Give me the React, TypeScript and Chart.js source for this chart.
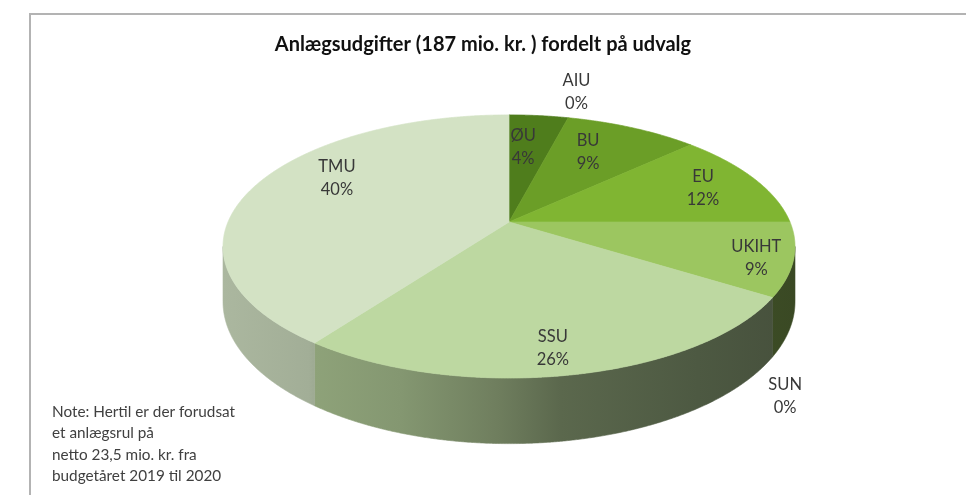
import React, { useEffect, useRef } from 'react';
import { Chart, registerables } from 'chart.js';

Chart.register(...registerables);

// ---- data ----
const TITLE = 'Anlægsudgifter (187 mio. kr. ) fordelt på udvalg';
const CATEGORIES = ['ØU', 'AIU', 'BU', 'EU', 'UKIHT', 'SUN', 'SSU', 'TMU'];
const SHARES = [4, 0, 9, 12, 9, 0, 26, 40];
const COLORS = ['#4f7d1c', '#5e8f22', '#6b9e27', '#80b532', '#9cc660', '#a9cc80', '#bdd8a1', '#d3e2c4'];
const NOTE_LINES = ['Note: Hertil er der forudsat', 'et anlægsrul på', 'netto 23,5 mio. kr. fra', 'budgetåret 2019 til 2020'];

// ---- label placement (radial fraction, angular nudge in degrees) ----
const LABEL_RADIUS = [0.66, 1.3, 0.685, 0.777, 0.879, 1.345, 0.851, 0.749];
const LABEL_NUDGE = [-2.3, -1.2, -3.4, 0.7, 1.9, 22, 1.9, 11.2];

// ---- 3D look ----
const TILT = 0.452; // vertical squash of the top face
const PERSP = 0.186; // perspective strength
const DEPTH = 0.19; // wall height as fraction of radius
const WALL_STOPS: [number, number][] = [
  [0, 0.81],
  [0.15, 0.77],
  [0.16, 0.75],
  [0.31, 0.7],
  [0.48, 0.585],
  [0.59, 0.48],
  [0.83, 0.41],
  [1, 0.37],
];

function shade(hex: string, f: number) {
  const n = parseInt(hex.slice(1), 16);
  const r = Math.round(((n >> 16) & 255) * f);
  const g = Math.round(((n >> 8) & 255) * f);
  const b = Math.round((n & 255) * f);
  return `rgb(${r},${g},${b})`;
}

const pie3d = {
  id: 'pie3d',
  beforeDraw(chart: any) {
    const ctx = chart.ctx as CanvasRenderingContext2D;
    ctx.save();
    ctx.fillStyle = '#ffffff';
    ctx.fillRect(0, 0, chart.width, chart.height);
    ctx.strokeStyle = '#b3b3b3';
    ctx.lineWidth = 2;
    ctx.beginPath();
    ctx.moveTo(chart.width, 14);
    ctx.lineTo(30, 14);
    ctx.lineTo(30, chart.height);
    ctx.stroke();
    ctx.restore();
  },
  beforeDatasetsDraw(chart: any) {
    const ctx = chart.ctx as CanvasRenderingContext2D;
    const meta = chart.getDatasetMeta(0);
    const arcs = meta.data;
    if (!arcs.length) return false;
    const first = arcs[0];
    const cx = first.x;
    const cy = first.y;
    const A = first.outerRadius;
    const B = A * TILT;
    const H = A * DEPTH;
    const proj = (r: number, a: number) => {
      const u = r * Math.cos(a);
      const v = r * Math.sin(a);
      const w = 1 - PERSP * v;
      return { x: cx + (A * u) / w, y: cy + (B * v) / w, w };
    };
    const step = Math.PI / 720;

    ctx.save();
    // walls
    const a1 = Math.asin(PERSP);
    const a2 = Math.PI - a1;
    const half = A / Math.sqrt(1 - PERSP * PERSP);
    arcs.forEach((arc: any, i: number) => {
      const lo = Math.max(arc.startAngle, a1);
      const hi = Math.min(arc.endAngle, a2);
      if (hi <= lo) return;
      const grad = ctx.createLinearGradient(cx - half, 0, cx + half, 0);
      WALL_STOPS.forEach(([t, f]) => grad.addColorStop(t, shade(COLORS[i], f)));
      ctx.beginPath();
      const top: { x: number; y: number; w: number }[] = [];
      for (let a = lo; a < hi; a += step) top.push(proj(1, a));
      top.push(proj(1, hi));
      top.forEach((p, k) => (k ? ctx.lineTo(p.x, p.y) : ctx.moveTo(p.x, p.y)));
      for (let k = top.length - 1; k >= 0; k--) {
        const p = top[k];
        ctx.lineTo(p.x, p.y + H / p.w);
      }
      ctx.closePath();
      ctx.fillStyle = grad;
      ctx.fill();
      ctx.strokeStyle = grad;
      ctx.lineWidth = 0.6;
      ctx.stroke();
    });

    // top faces
    arcs.forEach((arc: any, i: number) => {
      const s = arc.startAngle;
      const e = arc.endAngle;
      if (e - s <= 0) return;
      ctx.beginPath();
      ctx.moveTo(cx, cy);
      for (let a = s; a < e; a += step) {
        const p = proj(1, a);
        ctx.lineTo(p.x, p.y);
      }
      const pe = proj(1, e);
      ctx.lineTo(pe.x, pe.y);
      ctx.closePath();
      ctx.fillStyle = COLORS[i];
      ctx.fill();
      ctx.strokeStyle = COLORS[i];
      ctx.lineWidth = 0.7;
      ctx.stroke();
    });

    // data labels
    const values = chart.data.datasets[0].data as number[];
    const total = values.reduce((t, v) => t + v, 0);
    ctx.font = '16.5px Lato';
    ctx.fillStyle = '#383838';
    ctx.textAlign = 'center';
    ctx.textBaseline = 'middle';
    arcs.forEach((arc: any, i: number) => {
      const mid = (arc.startAngle + arc.endAngle) / 2 + (LABEL_NUDGE[i] * Math.PI) / 180;
      const p = proj(LABEL_RADIUS[i], mid);
      const pct = Math.round((values[i] / total) * 100) + '%';
      ctx.fillText(String(chart.data.labels[i]), p.x, p.y - 11.5);
      ctx.fillText(pct, p.x, p.y + 11.5);
    });

    // title
    ctx.font = 'bold 20px Lato';
    ctx.fillStyle = '#111111';
    ctx.fillText(TITLE, chart.width / 2, 45);

    // note
    ctx.font = '15.3px Lato';
    ctx.fillStyle = '#404040';
    ctx.textAlign = 'left';
    NOTE_LINES.forEach((line, k) => ctx.fillText(line, 52, 412 + k * 21.3));
    ctx.restore();
    return false;
  },
};

export default function App() {
  const ref = useRef<HTMLCanvasElement>(null);
  useEffect(() => {
    const canvas = ref.current!;
    const chart = new Chart(canvas, {
      type: 'pie',
      data: {
        labels: CATEGORIES,
        datasets: [
          {
            data: SHARES,
            backgroundColor: COLORS,
            borderWidth: 0,
            radius: 281,
          } as any,
        ],
      },
      options: {
        responsive: false,
        animation: false,
        devicePixelRatio: 1,
        events: [],
        layout: { padding: { left: 52, right: 0, top: 0, bottom: 51 } },
        plugins: {
          legend: { display: false },
          title: { display: false },
          tooltip: { enabled: false },
        },
      },
      plugins: [pie3d],
    });
    return () => chart.destroy();
  }, []);
  return (
    <div style={{ position: 'absolute', left: 0, top: 0, width: 966, height: 495, background: '#fff' }}>
      <canvas ref={ref} width={966} height={495} style={{ display: 'block', width: 966, height: 495 }} />
    </div>
  );
}
